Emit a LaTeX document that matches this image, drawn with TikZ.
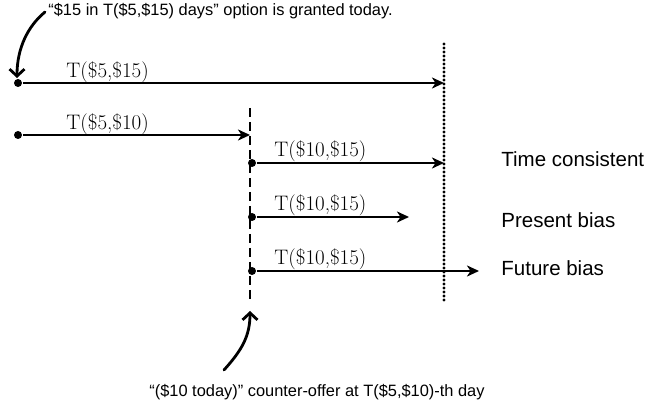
\documentclass[tikz,border=0pt]{standalone}
\usepackage{fontspec}
\newfontfamily\arialfont{Liberation Sans}
\usetikzlibrary{arrows.meta}

\tikzset{
  dot/.style={circle,fill=black,inner sep=0pt,minimum size=8pt},
  tarrow/.style={-{Stealth[length=12pt,width=11pt,inset=3.5pt]}},
  barb/.style={-{Straight Barb[length=7pt,width=15pt]},line cap=round},
  lbl/.style={anchor=base west,inner sep=0pt,font=\fontsize{21}{24}\selectfont},
  note/.style={anchor=base west,inner sep=0pt,font=\arialfont\fontsize{16.4}{19}\selectfont},
  casetext/.style={anchor=base west,inner sep=0pt,font=\arialfont\fontsize{20.5}{24}\selectfont},
}

\begin{document}
\begin{tikzpicture}[x=1pt,y=-1pt,line width=2.8pt]
\useasboundingbox (0,0) rectangle (651,406);

% deadlines
\coordinate (P) at (444,44);
\coordinate (Q) at (444,302);
\coordinate (R) at (250,108);
\coordinate (S) at (250,302);
\draw[line width=3.2pt,line cap=round,dash pattern=on 0pt off 4pt] (P)--(Q);
\draw[line width=2.6pt,dash pattern=on 9pt off 5pt] (R)--(S);

% first offer
\node[dot] (A) at (18,83) {};
\coordinate (B) at (444,83);
\draw[tarrow] (A)--(B);
\node[lbl] (lA) at (65,78) {T(\$5,\$15)};

\node[dot] (C) at (18,135) {};
\coordinate (D) at (250,135);
\draw[tarrow] (C)--(D);
\node[lbl] (lC) at (65,130) {T(\$5,\$10)};

% after the counter-offer
\node[dot] (E) at (252,163) {};
\coordinate (F) at (444,163);
\draw[tarrow] (E)--(F);
\node[lbl] (lE) at (273,157) {T(\$10,\$15)};

\node[dot] (G) at (252,217) {};
\coordinate (H) at (409,217);
\draw[tarrow] (G)--(H);
\node[lbl] (lG) at (273,211) {T(\$10,\$15)};

\node[dot] (I) at (252,271) {};
\coordinate (J) at (479,271);
\draw[tarrow] (I)--(J);
\node[lbl] (lI) at (273,265) {T(\$10,\$15)};

\node[casetext] (tc) at (500,167) {Time consistent};
\node[casetext] (pb) at (500,228) {Present bias};
\node[casetext] (fb) at (500,276) {Future bias};

% notes
\node[note] (top) at (47,16) {“\$15 in T(\$5,\$15) days” option is granted today.};
\coordinate (K) at (45,12);
\coordinate (L) at (17,78);
\draw[barb] (K) .. controls (28,26) and (17,48) .. (L);

\node[note] (bot) at (148,396) {“(\$10 today)” counter-offer at T(\$5,\$10)-th day};
\coordinate (M) at (224,370);
\coordinate (N) at (250,311);
\draw[barb] (M) .. controls (242,350) and (250,336) .. (N);

\end{tikzpicture}
\end{document}
